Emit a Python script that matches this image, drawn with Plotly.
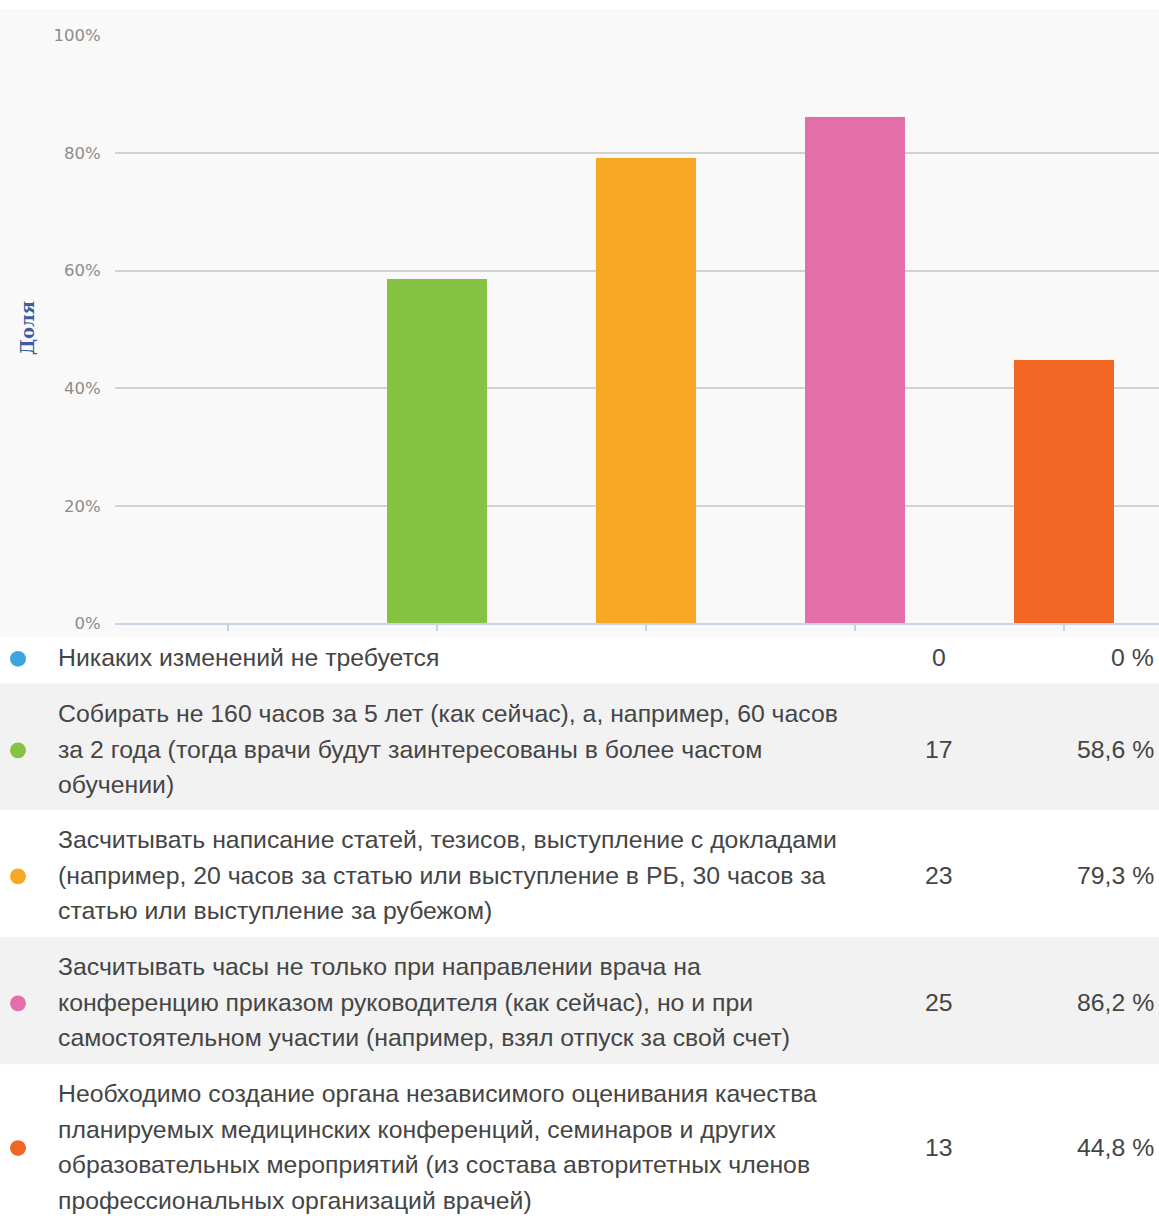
import plotly.graph_objects as go

W, H = 1159, 1225

# ---- data ----
categories = [
    "Никаких изменений не требуется",
    "Собирать не 160 часов за 5 лет",
    "Засчитывать написание статей",
    "Засчитывать часы",
    "Необходимо создание органа",
]
shares = [0, 58.6, 79.3, 86.2, 44.8]
counts = [0, 17, 23, 25, 13]
percent_labels = ["0 %", "58,6 %", "79,3 %", "86,2 %", "44,8 %"]
colors = ["#3aa6df", "#86c342", "#f9a825", "#e46ea9", "#f26624"]
row_lines = [
    ["Никаких изменений не требуется"],
    ["Собирать не 160 часов за 5 лет (как сейчас), а, например, 60 часов",
     "за 2 года (тогда врачи будут заинтересованы в более частом",
     "обучении)"],
    ["Засчитывать написание статей, тезисов, выступление с докладами",
     "(например, 20 часов за статью или выступление в РБ, 30 часов за",
     "статью или выступление за рубежом)"],
    ["Засчитывать часы не только при направлении врача на",
     "конференцию приказом руководителя (как сейчас), но и при",
     "самостоятельном участии (например, взял отпуск за свой счет)"],
    ["Необходимо создание органа независимого оценивания качества",
     "планируемых медицинских конференций, семинаров и других",
     "образовательных мероприятий (из состава авторитетных членов",
     "профессиональных организаций врачей)"],
]
y_ticks = [0, 20, 40, 60, 80, 100]
y_tick_labels = ["0%", "20%", "40%", "60%", "80%", "100%"]

# ---- layout geometry (pixels) ----
row_tops = [638, 685, 815, 943, 1073]
row_bottoms = [684, 814, 942, 1072, 1225]
row_mids = [659, 752, 880, 1009, 1156]
row_bg = ["#ffffff", "#f2f2f2", "#ffffff", "#f2f2f2", "#ffffff"]
line_step = 36.0
TXT = dict(family="Liberation Sans, Arial, sans-serif", size=24.8, color="#454545")


def py(p):
    return 1 - p / H


def px(p):
    return p / W


fig = go.Figure()
fig.add_trace(go.Bar(
    x=list(range(len(categories))),
    y=shares,
    marker=dict(color=colors, line=dict(width=0)),
    width=0.475,
    hoverinfo="skip",
))

shapes = []
annotations = []

# chart area background
shapes.append(dict(type="rect", xref="paper", yref="paper",
                   x0=0, x1=1, y0=py(638), y1=1,
                   fillcolor="#f9f9f9", line=dict(width=0), layer="below"))

for i, lines in enumerate(row_lines):
    top, bot = row_tops[i], row_bottoms[i]
    shapes.append(dict(type="rect", xref="paper", yref="paper",
                       x0=0, x1=1, y0=py(bot), y1=py(top),
                       fillcolor=row_bg[i], line=dict(width=0), layer="below"))
    n = len(lines)
    mid = row_mids[i]
    first = mid - (n - 1) * line_step / 2
    for j, t in enumerate(lines):
        annotations.append(dict(
            xref="paper", yref="paper", x=px(56), y=py(first + j * line_step),
            text=t, showarrow=False, xanchor="left", yanchor="middle", font=TXT))
    # dot
    shapes.append(dict(type="circle", xref="paper", yref="paper",
                       x0=px(10), x1=px(26), y0=py(mid + 9), y1=py(mid - 7),
                       fillcolor=colors[i], line=dict(width=0)))
    annotations.append(dict(
        xref="paper", yref="paper", x=px(939), y=py(mid),
        text=str(counts[i]), showarrow=False, xanchor="center", yanchor="middle", font=TXT))
    annotations.append(dict(
        xref="paper", yref="paper", x=px(1156), y=py(mid),
        text=percent_labels[i], showarrow=False, xanchor="right", yanchor="middle", font=TXT))

# y-axis title
annotations.append(dict(
    xref="paper", yref="paper", x=px(28), y=py(324), text="<b>Доля</b>",
    showarrow=False, textangle=-90, xanchor="center", yanchor="middle",
    font=dict(family="DejaVu Serif, serif", size=18, color="#3a5e9e")))

fig.update_layout(
    width=W, height=H,
    margin=dict(l=0, r=0, t=0, b=0),
    paper_bgcolor="#ffffff",
    plot_bgcolor="rgba(0,0,0,0)",
    showlegend=False,
    bargap=0,
    shapes=shapes,
    annotations=annotations,
    xaxis=dict(
        domain=[px(115), 1],
        range=[-0.54, 4.455],
        tickmode="array",
        tickvals=list(range(len(categories))),
        ticktext=[""] * len(categories),
        ticks="outside", ticklen=6, tickwidth=1.5, tickcolor="#c8d4e2",
        showline=True, linecolor="#c8d4e2", linewidth=2,
        showgrid=False, zeroline=False, fixedrange=True,
    ),
    yaxis=dict(
        domain=[py(624), py(27)],
        range=[0, 100],
        tickmode="array",
        tickvals=y_ticks,
        ticktext=y_tick_labels,
        ticks="outside", ticklen=10, tickcolor="rgba(0,0,0,0)",
        tickfont=dict(family="DejaVu Sans, sans-serif", size=16.5, color="#8c8c8c"),
        showgrid=True, gridcolor="#d2d2d2", gridwidth=2,
        zeroline=False, fixedrange=True,
    ),
)

fig.write_html("out.html", post_script="document.body.style.margin='0';",
               config={"displayModeBar": False})
